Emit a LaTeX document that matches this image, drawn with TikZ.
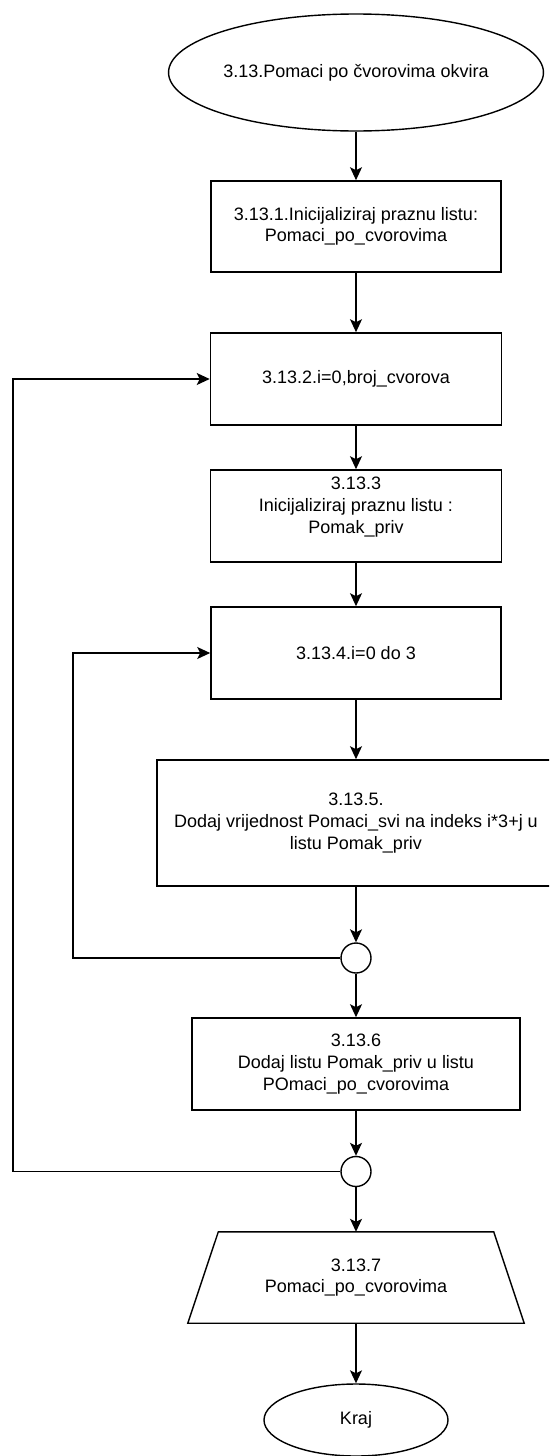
\documentclass[tikz,border=0pt]{standalone}
\usepackage{fontspec}
\setmainfont{Liberation Sans}
\usetikzlibrary{shapes.geometric,arrows.meta,calc}
\begin{document}
\begin{tikzpicture}[x=1pt,y=-1pt,
  every node/.style={font=\fontsize{18}{21.6}\selectfont, align=center, inner sep=0pt},
  box/.style={draw, line width=1.6pt, rectangle},
  term/.style={draw, line width=1.4pt, ellipse},
  junction/.style={draw, line width=1.4pt, circle, minimum size=30pt},
  conn/.style={line width=1.5pt, -{Stealth[length=13pt,width=12pt,inset=3pt]}},
  plain/.style={line width=1.5pt}]
\useasboundingbox (0,0) rectangle (549,1456);
\fill[white] (0,0) rectangle (549,1456);
\clip (0,0) rectangle (549,1456);

\node[term, minimum width=320pt, minimum height=117pt] (start) at (356,72.5) {3.13.Pomaci po čvorovima okvira};
\node[box, minimum width=290pt, minimum height=91pt] (r1) at (356,226.5) {3.13.1.Inicijaliziraj praznu listu:\\Pomaci\_po\_cvorovima};
\node[box, minimum width=291pt, minimum height=92pt] (r2) at (356,379) {3.13.2.i=0,broj\_cvorova};
\node[box, minimum width=291pt, minimum height=92pt] (r3) at (356,516) {3.13.3\\Inicijaliziraj praznu listu :\\Pomak\_priv\\\mbox{}};
\node[box, minimum width=290pt, minimum height=92pt] (r4) at (356,653) {3.13.4.i=0 do 3};
\node[box, minimum width=398pt, minimum height=126pt] (r5) at (356,823) {3.13.5.\\Dodaj vrijednost Pomaci\_svi na indeks i*3+j u\\listu Pomak\_priv};
\node[junction] (c1) at (356,958) {};
\node[box, minimum width=328pt, minimum height=92pt] (r6) at (356,1064) {3.13.6\\Dodaj listu Pomak\_priv u listu\\POmaci\_po\_cvorovima};
\node[junction] (c2) at (356,1171.5) {};
\node[minimum width=336pt, minimum height=91pt] (out) at (356,1277.5) {3.13.7\\Pomaci\_po\_cvorovima};
\draw[line width=1.4pt, line join=miter] ($(out.north west)+(30.5,0)$) -- ($(out.north east)+(-30.5,0)$) -- (out.south east) -- (out.south west) -- cycle;
\node[term, minimum width=184pt, minimum height=72pt] (end) at (356,1420) {Kraj};

\coordinate (k1) at (73,653);
\coordinate (k2) at (13,379);

\draw[conn] (start) -- (r1);
\draw[conn] (r1) -- (r2);
\draw[conn] (r2) -- (r3);
\draw[conn] (r3) -- (r4);
\draw[conn] (r4) -- (r5);
\draw[conn] (r5) -- (c1);
\draw[conn] (c1) -- (r6);
\draw[conn] (r6) -- (c2);
\draw[conn] (c2) -- (out.north);
\draw[conn] (out.south) -- (end);
\draw[conn] (c1.west) -| (k1) -- (r4.west);
\draw[conn] (c2.west) -| (k2) -- (r2.west);
\end{tikzpicture}
\end{document}
